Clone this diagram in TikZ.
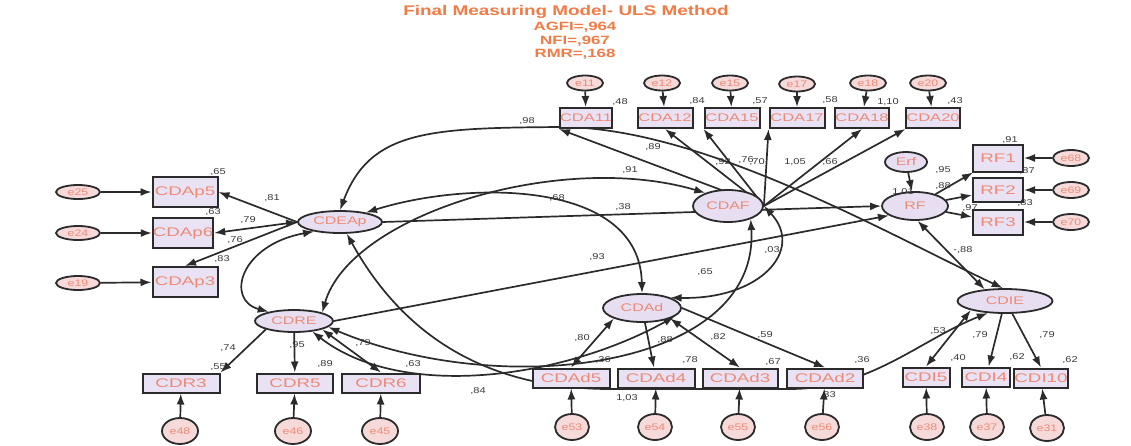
\documentclass[tikz,border=0pt]{standalone}
\usepackage{fontspec}
\setmainfont{Liberation Sans}
\usetikzlibrary{arrows.meta,backgrounds,shapes.geometric}
\definecolor{txtor}{HTML}{EE8A74}
\definecolor{ttl}{HTML}{F27B45}
\definecolor{boxfill}{HTML}{E9E2F4}
\definecolor{latfill}{HTML}{E7DEF2}
\definecolor{errfill}{HTML}{F6DADA}
\definecolor{edgec}{HTML}{2B2B2B}
\definecolor{valc}{HTML}{3A3A3A}
\newcommand{\wt}[1]{\scalebox{1.5}[1]{#1}}
\newcommand{\wv}[1]{\scalebox{1.3}[1]{#1}}
\newcommand{\wl}[1]{\scalebox{1.45}[1]{#1}}
\tikzset{
 ind/.style={rectangle,draw=edgec,line width=2pt,fill=boxfill,minimum height=20pt,inner sep=0pt,text=txtor,font=\fontsize{12.5}{12.5}\selectfont},
 lat/.style={ellipse,draw=edgec,line width=1.8pt,fill=latfill,inner sep=0pt,text=txtor,font=\fontsize{11}{11}\selectfont},
 err/.style={ellipse,draw=edgec,line width=1.8pt,fill=errfill,inner sep=0pt,text=txtor,font=\fontsize{9.5}{9.5}\selectfont},
 val/.style={text=valc,font=\fontsize{8.5}{8.5}\selectfont,inner sep=0pt},
 ar/.style={-{Latex[length=11pt,width=8pt]},line width=1.7pt,draw=edgec},
 dar/.style={{Latex[length=11pt,width=8pt]}-{Latex[length=11pt,width=8pt]},line width=1.7pt,draw=edgec},
 ttlsty/.style={text=ttl,font=\bfseries,inner sep=0pt},
}
\begin{document}
\begin{tikzpicture}[x=1pt,y=-1pt]
\useasboundingbox (0,0) rectangle (1131,445);
% title
\node[ttlsty,font=\bfseries\fontsize{14}{14}\selectfont] (t1) at (566,12) {\scalebox{1.35}[1]{Final Measuring Model- ULS Method}};
\node[ttlsty,font=\bfseries\fontsize{12}{12}\selectfont] (t2) at (575,27) {\scalebox{1.4}[1]{AGFI=,964}};
\node[ttlsty,font=\bfseries\fontsize{12}{12}\selectfont] (t3) at (575,41) {\scalebox{1.4}[1]{NFI=,967}};
\node[ttlsty,font=\bfseries\fontsize{12}{12}\selectfont] (t4) at (575,54) {\scalebox{1.4}[1]{RMR=,168}};

% top indicators
\node[ind,minimum width=48pt,font=\fontsize{11}{11}\selectfont] (CDA11) at (586,118) {\wt{CDA11}};
\node[ind,minimum width=55pt,font=\fontsize{11}{11}\selectfont] (CDA12) at (665,118) {\wt{CDA12}};
\node[ind,minimum width=55pt,font=\fontsize{11}{11}\selectfont] (CDA15) at (732,118) {\wt{CDA15}};
\node[ind,minimum width=55pt,font=\fontsize{11}{11}\selectfont] (CDA17) at (797,118) {\wt{CDA17}};
\node[ind,minimum width=51pt,font=\fontsize{11}{11}\selectfont] (CDA18) at (862,118) {\wt{CDA18}};
\node[ind,minimum width=53pt,font=\fontsize{11}{11}\selectfont] (CDA20) at (933,118) {\wt{CDA20}};
\node[err,minimum width=36pt,minimum height=15pt] (eT1) at (585,83) {\wv{e11}};
\node[err,minimum width=36pt,minimum height=15pt] (eT2) at (662,83) {\wv{e12}};
\node[err,minimum width=36pt,minimum height=15pt] (eT3) at (730,83) {\wv{e15}};
\node[err,minimum width=36pt,minimum height=15pt] (eT4) at (797,84) {\wv{e17}};
\node[err,minimum width=36pt,minimum height=15pt] (eT5) at (868,83) {\wv{e18}};
\node[err,minimum width=36pt,minimum height=15pt] (eT6) at (928,83) {\wv{e20}};

% left indicators
\node[ind,minimum width=65pt,minimum height=30pt] (CDAp5) at (185,192) {\wt{CDAp5}};
\node[ind,minimum width=60pt,minimum height=30pt] (CDAp6) at (183,233) {\wt{CDAp6}};
\node[ind,minimum width=65pt,minimum height=30pt] (CDAp3) at (185,282) {\wt{CDAp3}};
\node[err,minimum width=44pt,minimum height=14pt] (eL1) at (78,192) {\wv{e25}};
\node[err,minimum width=44pt,minimum height=14pt] (eL2) at (78,233) {\wv{e24}};
\node[err,minimum width=44pt,minimum height=14pt] (eL3) at (78,283) {\wv{e19}};

% latents
\node[lat,minimum width=84pt,minimum height=22pt] (CDEAp) at (340,222) {\wl{CDEAp}};
\node[lat,minimum width=70pt,minimum height=32pt] (CDAF) at (728,206) {\wl{CDAF}};
\node[lat,minimum width=66pt,minimum height=28pt] (RF) at (915,206) {\wl{RF}};
\node[lat,minimum width=42pt,minimum height=20pt] (Erf) at (906,162) {\wl{Erf}};
\node[lat,minimum width=78pt,minimum height=22pt] (CDRE) at (294,321) {\wl{CDRE}};
\node[lat,minimum width=78pt,minimum height=28pt] (CDAd) at (642,308) {\wl{CDAd}};
\node[lat,minimum width=95pt,minimum height=24pt] (CDIE) at (1005,301) {\wl{CDIE}};

% RF indicators
\node[ind,minimum width=50pt,minimum height=27pt] (RF1) at (998,158) {\wt{RF1}};
\node[ind,minimum width=50pt,minimum height=24pt] (RF2) at (998,190) {\wt{RF2}};
\node[ind,minimum width=50pt,minimum height=25pt] (RF3) at (998,222) {\wt{RF3}};
\node[err,minimum width=36pt,minimum height=16pt] (e68) at (1071,158) {\wv{e68}};
\node[err,minimum width=36pt,minimum height=16pt] (e69) at (1071,190) {\wv{e69}};
\node[err,minimum width=36pt,minimum height=16pt] (e70) at (1071,222) {\wv{e70}};

% bottom indicators
\node[ind,minimum width=77pt,minimum height=19pt] (CDR3) at (181,383) {\wt{CDR3}};
\node[ind,minimum width=76pt,minimum height=19pt] (CDR5) at (295,383) {\wt{CDR5}};
\node[ind,minimum width=78pt,minimum height=19pt] (CDR6) at (381,383) {\wt{CDR6}};
\node[ind,minimum width=77pt,minimum height=19pt] (CDAd5) at (571,378) {\wt{CDAd5}};
\node[ind,minimum width=77pt,minimum height=19pt] (CDAd4) at (656,378) {\wt{CDAd4}};
\node[ind,minimum width=75pt,minimum height=19pt] (CDAd3) at (740,378) {\wt{CDAd3}};
\node[ind,minimum width=76pt,minimum height=19pt] (CDAd2) at (825,378) {\wt{CDAd2}};
\node[ind,minimum width=47pt,minimum height=19pt] (CDI5) at (926,377) {\wt{CDI5}};
\node[ind,minimum width=48pt,minimum height=19pt] (CDI4) at (986,377) {\wt{CDI4}};
\node[ind,minimum width=48pt,minimum height=19pt] (CDI10) at (1041,378) {\wt{CDI10}};
\node[err,minimum width=36pt,minimum height=26pt] (e48) at (180,431) {\wv{e48}};
\node[err,minimum width=36pt,minimum height=26pt] (e46) at (293,431) {\wv{e46}};
\node[err,minimum width=36pt,minimum height=26pt] (e45) at (380,431) {\wv{e45}};
\node[err,minimum width=34pt,minimum height=26pt] (e53) at (572,427) {\wv{e53}};
\node[err,minimum width=34pt,minimum height=26pt] (e54) at (655,427) {\wv{e54}};
\node[err,minimum width=34pt,minimum height=26pt] (e55) at (738,427) {\wv{e55}};
\node[err,minimum width=34pt,minimum height=26pt] (e56) at (822,427) {\wv{e56}};
\node[err,minimum width=34pt,minimum height=26pt] (e38) at (927,427) {\wv{e38}};
\node[err,minimum width=34pt,minimum height=26pt] (e37) at (987,427) {\wv{e37}};
\node[err,minimum width=34pt,minimum height=26pt] (e31) at (1047,428) {\wv{e31}};

\begin{scope}[on background layer]
\fill[white] (0,0) rectangle (1131,445);
% error arrows
\foreach \a/\b in {eT1/CDA11,eT2/CDA12,eT3/CDA15,eT4/CDA17,eT5/CDA18,eT6/CDA20,eL1/CDAp5,eL2/CDAp6,eL3/CDAp3,e68/RF1,e69/RF2,e70/RF3,e48/CDR3,e46/CDR5,e45/CDR6,e53/CDAd5,e54/CDAd4,e55/CDAd3,e56/CDAd2,e38/CDI5,e37/CDI4,e31/CDI10,Erf/RF}
  \draw[ar] (\a) -- (\b);
% loadings
\draw[ar] (CDAF.east) -- (CDA11.south west);
\draw[ar] (CDAF.east) -- (CDA12.south);
\draw[ar] (CDAF.east) -- (CDA15.south west);
\draw[ar] (CDAF.east) -- (CDA17.south west);
\draw[ar] (CDAF.east) -- (CDA18.south);
\draw[ar] (CDAF.east) -- (CDA20.south west);
\draw[ar] (CDEAp.west) -- (CDAp5.east);
\draw[dar] (CDEAp.west) -- (CDAp6.east);
\draw[ar] (CDEAp.west) -- (CDAp3.north);
\draw[ar] (RF) -- (RF1);
\draw[ar] (RF) -- (RF2);
\draw[ar] (RF) -- (RF3);
\draw[ar] (CDRE.south west) -- (CDR3.north east);
\draw[ar] (CDRE) -- (CDR5);
\draw[dar] (CDRE.south east) -- (CDR6.north);
\draw[dar] (CDAd.south west) -- (CDAd5.north);
\draw[ar] (CDAd) -- (CDAd4);
\draw[dar] (CDAd.south east) -- (CDAd3.north);
\draw[ar] (CDAd.east) -- (CDAd2.north);
\draw[dar] (CDIE.south west) -- (CDI5.north);
\draw[ar] (CDIE) -- (CDI4);
\draw[ar] (CDIE.300) -- (CDI10.north);
% structural
\draw[ar] (CDEAp.east) -- (RF.west);
\draw[ar] (CDRE.east) -- (RF.200);
\draw[dar] (CDEAp.north) .. controls (370,130) and (430,128) .. (560,127) .. controls (700,127) and (880,230) .. (CDIE.100);
\draw[dar] (CDRE.north east) .. controls (350,215) and (560,150) .. (CDAF.150);
\draw[dar] (CDEAp.20) .. controls (470,180) and (640,180) .. (CDAd.north);
\draw[dar] (CDEAp.200) .. controls (240,245) and (225,300) .. (CDRE.160);
\draw[dar] (CDEAp.300) .. controls (400,330) and (480,389) .. (610,389) -- (790,389) .. controls (870,389) and (920,340) .. (CDIE.215);
\draw[dar] (CDRE.330) .. controls (400,400) and (560,380) .. (CDAd.345);
\draw[dar] (CDAF.east) .. controls (805,250) and (760,300) .. (CDAd.20);
\draw[dar] (CDRE.350) .. controls (500,400) and (760,370) .. (CDAF.330);
\draw[dar] (RF.280) -- (CDIE.150);
\end{scope}

% values
\node[val] (v1) at (620,102) {\wv{,48}};
\node[val] (v2) at (697,101) {\wv{,84}};
\node[val] (v3) at (760,101) {\wv{,57}};
\node[val] (v4) at (830,100) {\wv{,58}};
\node[val] (v5) at (888,102) {\wv{1,10}};
\node[val] (v6) at (955,101) {\wv{,43}};
\node[val] (v7) at (653,147) {\wv{,89}};
\node[val] (v8) at (723,162) {\wv{,92}};
\node[val] (v9) at (746,160) {\wv{,76}};
\node[val] (v10) at (757,162) {\wv{,70}};
\node[val] (v11) at (795,162) {\wv{1,05}};
\node[val] (v12) at (830,162) {\wv{,66}};
\node[val] (v13) at (527,121) {\wv{,98}};
\node[val] (v14) at (218,172) {\wv{,65}};
\node[val] (v15) at (213,212) {\wv{,63}};
\node[val] (v16) at (272,198) {\wv{,81}};
\node[val] (v17) at (248,220) {\wv{,79}};
\node[val] (v18) at (235,240) {\wv{,76}};
\node[val] (v19) at (222,259) {\wv{,83}};
\node[val] (v20) at (1010,140) {\wv{,91}};
\node[val] (v21) at (1027,171) {\wv{,87}};
\node[val] (v22) at (1025,203) {\wv{,83}};
\node[val] (v23) at (943,170) {\wv{,95}};
\node[val] (v24) at (943,186) {\wv{,88}};
\node[val] (v25) at (970,208) {\wv{,97}};
\node[val] (v26) at (903,192) {\wv{1,01}};
\node[val] (v27) at (623,207) {\wv{,38}};
\node[val] (v28) at (557,198) {\wv{,68}};
\node[val] (v29) at (630,170) {\wv{,91}};
\node[val] (v30) at (597,257) {\wv{,93}};
\node[val] (v31) at (772,250) {\wv{,03}};
\node[val] (v32) at (705,272) {\wv{,65}};
\node[val] (v33) at (963,250) {\wv{-,88}};
\node[val] (v34) at (228,348) {\wv{,74}};
\node[val] (v35) at (218,367) {\wv{,55}};
\node[val] (v36) at (297,345) {\wv{,95}};
\node[val] (v37) at (325,364) {\wv{,89}};
\node[val] (v38) at (363,343) {\wv{,79}};
\node[val] (v39) at (413,364) {\wv{,63}};
\node[val] (v40) at (478,391) {\wv{,84}};
\node[val] (v41) at (582,338) {\wv{,80}};
\node[val] (v42) at (665,340) {\wv{,88}};
\node[val] (v43) at (718,337) {\wv{,82}};
\node[val] (v44) at (765,335) {\wv{,59}};
\node[val] (v45) at (603,360) {\wv{,36}};
\node[val] (v46) at (690,360) {\wv{,78}};
\node[val] (v47) at (773,362) {\wv{,67}};
\node[val] (v48) at (862,360) {\wv{,36}};
\node[val] (v49) at (828,395) {\wv{,33}};
\node[val] (v50) at (627,398) {\wv{1,03}};
\node[val] (v51) at (938,331) {\wv{,53}};
\node[val] (v52) at (958,358) {\wv{,40}};
\node[val] (v53) at (980,335) {\wv{,79}};
\node[val] (v54) at (1017,357) {\wv{,62}};
\node[val] (v55) at (1047,335) {\wv{,79}};
\node[val] (v56) at (1070,360) {\wv{,62}};
\end{tikzpicture}
\end{document}
